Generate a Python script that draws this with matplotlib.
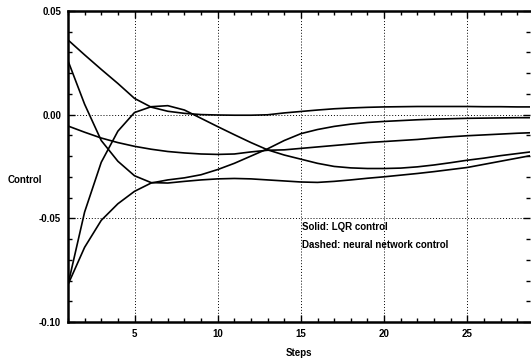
import numpy as np
import matplotlib
matplotlib.use("Agg")
import matplotlib.pyplot as plt
from matplotlib.ticker import MultipleLocator

# --- Datos ---
steps = list(range(1, 30))

curva_1 = [0.036, 0.0288, 0.0218, 0.0150, 0.0078, 0.0036, 0.0016, 0.0006, 0.0, -0.0002,
           -0.0003, -0.0003, -0.0001, 0.0008, 0.0015, 0.0022, 0.0028, 0.0032, 0.0035, 0.0037,
           0.0038, 0.0039, 0.0039, 0.0039, 0.0039, 0.0038, 0.0038, 0.0037, 0.0037]

curva_2 = [-0.082, -0.047, -0.023, -0.008, 0.001, 0.0038, 0.0043, 0.0022, -0.0018, -0.0058,
           -0.0097, -0.0135, -0.0170, -0.0195, -0.0215, -0.0235, -0.0250, -0.0257, -0.0260, -0.0260,
           -0.0258, -0.0252, -0.0243, -0.0232, -0.0220, -0.0210, -0.0198, -0.0188, -0.0178]

curva_3 = [-0.082, -0.064, -0.051, -0.043, -0.037, -0.033, -0.0315, -0.0305, -0.029, -0.0265,
           -0.0235, -0.0200, -0.0165, -0.0125, -0.0092, -0.0072, -0.0057, -0.0046, -0.0038, -0.0033,
           -0.0029, -0.0025, -0.0022, -0.0020, -0.0018, -0.0017, -0.0016, -0.0015, -0.0015]

curva_4 = [0.026, 0.005, -0.0125, -0.0225, -0.0295, -0.0328, -0.0330, -0.0322, -0.0315, -0.0310,
           -0.0308, -0.0310, -0.0315, -0.0320, -0.0325, -0.0327, -0.0322, -0.0315, -0.0307, -0.0300,
           -0.0292, -0.0284, -0.0275, -0.0265, -0.0255, -0.0240, -0.0225, -0.0210, -0.0195]

curva_5 = [-0.0055, -0.0085, -0.0113, -0.0135, -0.0153, -0.0167, -0.0178, -0.0185, -0.0190, -0.0192,
           -0.0190, -0.0180, -0.0172, -0.0170, -0.0163, -0.0156, -0.0149, -0.0142, -0.0135, -0.0130,
           -0.0125, -0.0120, -0.0113, -0.0107, -0.0102, -0.0098, -0.0094, -0.0090, -0.0087]

curvas = [curva_1, curva_2, curva_3, curva_4, curva_5]

y_ticks = [-0.10, -0.05, 0.00, 0.05]
y_labels = ["-0.10", "-0.05", "0.00", "0.05"]
x_ticks = [5, 10, 15, 20, 25]

# --- Figura ---
plt.rcParams["font.family"] = ["Liberation Sans", "DejaVu Sans"]
fig = plt.figure(figsize=(5.31, 3.63), dpi=100)
ax = fig.add_axes([0.128, 0.113, 0.871, 0.857])

for c in curvas:
    ax.plot(steps, c, color="black", lw=1.2)

ax.set_xlim(1, 28.8)
ax.set_ylim(-0.10, 0.05)

# --- Ejes y rejilla ---
ax.set_xticks(x_ticks)
ax.set_yticks(y_ticks)
ax.set_yticklabels(y_labels)
ax.xaxis.set_minor_locator(MultipleLocator(1))
ax.yaxis.set_minor_locator(MultipleLocator(0.01))
ax.tick_params(which="both", direction="in", top=True, right=True, width=1.0)
ax.tick_params(which="major", length=5, labelsize=7, pad=5)
ax.tick_params(which="minor", length=3)
for lab in ax.get_xticklabels() + ax.get_yticklabels():
    lab.set_fontweight("bold")
ax.grid(True, which="major", linestyle=(0, (1, 2)), color="black", lw=0.7)

for s in ["left", "bottom", "top"]:
    ax.spines[s].set_linewidth(1.8)
ax.spines["right"].set_visible(False)

# --- Textos ---
ax.text(15.05, -0.0543, "Solid: LQR control", fontsize=7, fontweight="bold", va="center")
ax.text(15.05, -0.0630, "Dashed: neural network control", fontsize=7, fontweight="bold", va="center")
fig.text(25 / 531, 1 - 180 / 363, "Control", fontsize=7, fontweight="bold", ha="center", va="center")
fig.text(299 / 531, 1 - 353 / 363, "Steps", fontsize=7, fontweight="bold", ha="center", va="center")

fig.savefig("out.png", dpi=100)
